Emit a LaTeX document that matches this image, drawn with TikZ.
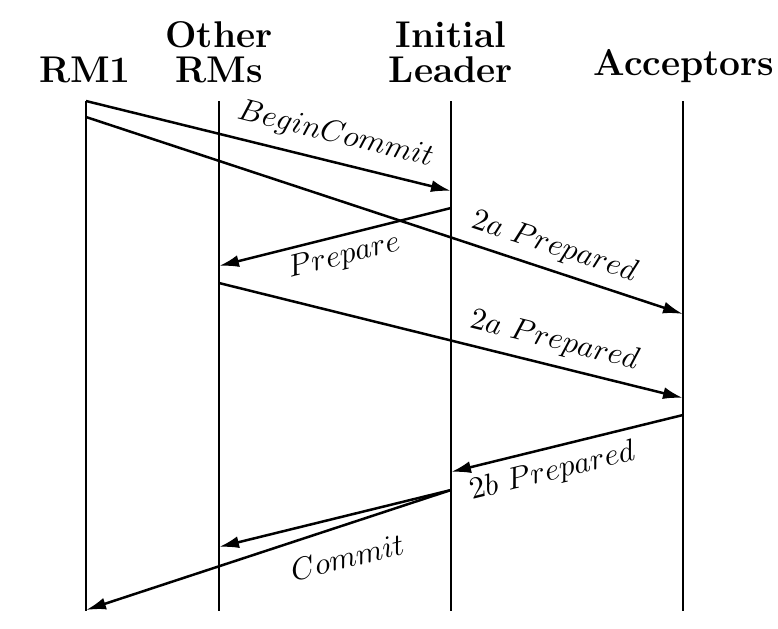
\documentclass[tikz,border=0pt]{standalone}
\usetikzlibrary{arrows.meta}
\DeclareFontShape{OML}{cmm}{m}{it}{<->cmmi10}{}
\DeclareFontShape{OT1}{cmr}{m}{n}{<->cmr10}{}
\begin{document}
\begin{tikzpicture}[x=0.5pt,y=-0.5pt,
  head/.style={font=\fontsize{18.6}{17.5}\selectfont\bfseries, align=center, anchor=south, inner sep=0pt},
  life/.style={line width=1.25pt},
  msg/.style={line width=1.25pt, -{Latex[length=10pt,width=6pt]}},
  lbl/.style={font=\fontsize{15.5}{18}\selectfont, sloped, inner sep=0pt}]
\useasboundingbox (0,0) rectangle (778,628);

% headers
\node[head] (h1) at (85,83) {RM1};
\node[head] (h2) at (219,83) {Other\\RMs};
\node[head] (h3) at (451,83) {Initial\\Leader};
\node[head] (h4) at (684,83) {Acceptors};

% lifelines
\coordinate (t1) at (86,101);  \coordinate (b1) at (86,611);
\coordinate (t2) at (219,101); \coordinate (b2) at (219,611);
\coordinate (t3) at (451,101); \coordinate (b3) at (451,611);
\coordinate (t4) at (683,101); \coordinate (b4) at (683,611);
\draw[life] (t1) -- (b1);
\draw[life] (t2) -- (b2);
\draw[life] (t3) -- (b3);
\draw[life] (t4) -- (b4);

% message end points
\coordinate (m1s) at (86,101);  \coordinate (m1e) at (451,191);
\coordinate (m2s) at (86,117);  \coordinate (m2e) at (683,314);
\coordinate (m3s) at (451,208); \coordinate (m3e) at (219,266);
\coordinate (m4s) at (219,283); \coordinate (m4e) at (683,398);
\coordinate (m5s) at (683,415); \coordinate (m5e) at (451,472);
\coordinate (m6s) at (451,490); \coordinate (m6e) at (219,547);
\coordinate (m7e) at (86,610);

% messages
\draw[msg] (m1s) -- node[lbl, pos=0.666, above=6pt] {$BeginCommit$} (m1e);
\draw[msg] (m2s) -- node[lbl, pos=0.772, above=4.2pt] {$2a\ Prepared$} (m2e);
\draw[msg] (m3s) -- node[lbl, pos=0.483, below=3pt] {$Prepare$} (m3e);
\draw[msg] (m4s) -- node[lbl, pos=0.71, above=4.75pt] {$2a\ Prepared$} (m4e);
\draw[msg] (m5s) -- node[lbl, pos=0.588, below=4.6pt] {$2b\ Prepared$} (m5e);
\draw[msg] (m6s) -- node[lbl, pos=0.489, below=14.3pt] {$Commit$} (m6e);
\draw[msg] (m6s) -- (m7e);
\end{tikzpicture}
\end{document}
